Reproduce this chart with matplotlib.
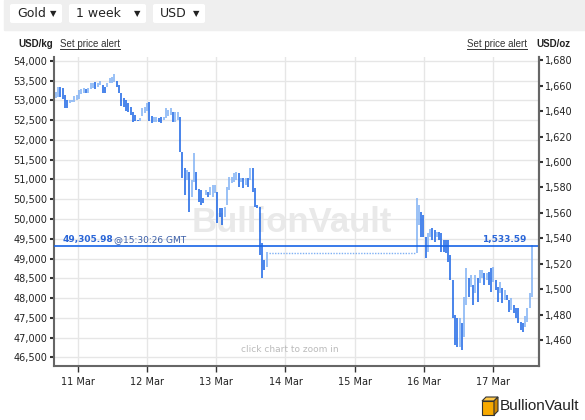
import numpy as np
import matplotlib.pyplot as plt
from matplotlib.patches import FancyBboxPatch, Rectangle, Polygon
from matplotlib.lines import Line2D
from matplotlib.ticker import FuncFormatter

plt.rcParams['font.family'] = ['DejaVu Sans']

OZ_PER_KG = 32.1507

# hours since 10 Mar 00:00 GMT
s1_start, s1_end = 16.4, 89.5
s1_high = [53220, 53350, 53340, 53320, 53140, 53010, 53010, 53000, 53120, 53140,
           53270, 53290, 53320, 53290, 53320, 53450, 53450, 53470, 53450, 53500,
           53390, 53340, 53450, 53570, 53600, 53670, 53500, 53390, 53190, 53060,
           53010, 52940, 52840, 52710, 52630, 52510, 52560, 52810, 52840, 52940,
           52960, 52610, 52580, 52580, 52560, 52580, 52580, 52810, 52760, 52810,
           52710, 52710, 52710,
           52580, 51700, 51290, 51240, 51190, 50990, 51670, 51190, 50760, 50730,
           50530, 50730, 50680, 50810, 50860, 50860, 50680, 50280, 50280, 50300,
           50810, 51060, 51060, 51160, 51190, 51160, 51040, 51040, 51040, 51040,
           51290, 51290, 50780, 50350, 50300, 49390, 48960, 49160]
s1_low = [53060, 53100, 53090, 53040, 52810, 52810, 52940, 52960, 52960, 53010,
          53040, 53170, 53190, 53190, 53190, 53290, 53320, 53290, 53340, 53390,
          53190, 53190, 53340, 53450, 53450, 53470, 53340, 53190, 52860, 52840,
          52740, 52710, 52630, 52460, 52480, 52480, 52480, 52610, 52680, 52740,
          52480, 52430, 52460, 52460, 52460, 52430, 52510, 52560, 52610, 52630,
          52460, 52460, 52510,
          51700, 51040, 50610, 50990, 50180, 50560, 50940, 50730, 50430, 50350,
          50400, 50610, 50560, 50610, 50560, 50660, 49900, 50050, 49850, 50050,
          50350, 50730, 50910, 50940, 50990, 50810, 50940, 50780, 50860, 50810,
          50990, 50680, 50300, 50280, 49090, 48500, 48710, 48780]

s2_start, s2_end = 141.4, 181.3
s2_high = [50530, 50350, 50180, 50100, 49540, 49640, 49750, 49770, 49720, 49670,
           49670, 49640, 49470, 49470, 49470, 49090, 48450, 47570, 47490, 47490,
           47360, 48020, 48760, 48500, 48580, 48330, 48580, 48500, 48710, 48710,
           48630, 48630, 48660, 48760, 48780, 48450, 48280, 48400, 48250, 48200,
           48070, 47950, 48000, 47820, 47740, 47740, 47390, 47360, 47540, 47740,
           48120, 49330]
s2_low = [49140, 49850, 49540, 49540, 49010, 49160, 49540, 49470, 49420, 49540,
          49470, 49160, 49160, 49140, 48910, 48450, 47490, 46810, 46760, 46760,
          46680, 47010, 47820, 48020, 48280, 47820, 48120, 47900, 48380, 48500,
          48330, 48450, 48330, 48150, 48400, 48200, 47900, 48120, 47870, 47950,
          47950, 47640, 47690, 47620, 47490, 47360, 47190, 47140, 47260, 47390,
          47740, 48020]

weekend_level = 49140
last_price = 49305.98
last_time = '@15:30:26 GMT'
day_labels = ['11 Mar', '12 Mar', '13 Mar', '14 Mar', '15 Mar', '16 Mar', '17 Mar']
kg_ticks = np.arange(46500, 54001, 500)
oz_ticks = np.arange(1460, 1681, 20)

DARK = '#1763e6'
LIGHT = '#7fb0f4'
W, H = 585, 420
UI_FONT = 'Liberation Sans'


def fx(x):
    return x / W


def fy(y):
    return 1 - y / H


fig = plt.figure(figsize=(W / 100, H / 100), dpi=100)
fig.patch.set_facecolor('white')

# top control bar
fig.patches.append(Rectangle((fx(4), fy(30)), 1, 30 / H, transform=fig.transFigure,
                             color='#efefef', zorder=0))
for x0, x1, label in [(10, 62, 'Gold'), (69, 146, '1 week'), (153, 205, 'USD')]:
    fig.patches.append(FancyBboxPatch((fx(x0), fy(23)), (x1 - x0) / W, 19 / H,
                                      boxstyle='round,pad=0,rounding_size=0.004',
                                      transform=fig.transFigure, fc='white', ec='none'))
    fig.text(fx(x0 + 7), fy(13.5), label, fontsize=9, color='#222222', va='center')
    fig.text(fx(x1 - 6), fy(13.5), '\u25BC', fontsize=6, color='#222222',
             va='center', ha='right')

fig.text(fx(18), fy(44), 'USD/kg', fontsize=7, family=UI_FONT, fontweight='bold',
         color='#222222', va='center')
sp_left = fig.text(fx(60), fy(44), 'Set price alert', fontsize=7, family=UI_FONT,
                   color='#333333', va='center')
sp_right = fig.text(fx(467), fy(44), 'Set price alert', fontsize=7, family=UI_FONT,
                    color='#333333', va='center')
fig.text(fx(536), fy(44), 'USD/oz', fontsize=7, family=UI_FONT, fontweight='bold',
         color='#222222', va='center')

ax = fig.add_axes([fx(53.6), 1 - 366 / H, (538.9 - 53.6) / W, (366 - 57) / H])
ax.set_xlim(15.7, 183.75)
ax.set_ylim(46280, 54100)

ax.set_axisbelow(True)
ax.grid(True, color='#e6e6e6', lw=1)
ax.set_yticks(kg_ticks)
ax.yaxis.set_major_formatter(FuncFormatter(lambda v, p: f'{v:,.0f}'))
ax.set_xticks([24 * (i + 1) for i in range(len(day_labels))])
ax.set_xticklabels(day_labels)

for s in ['left', 'right', 'bottom']:
    ax.spines[s].set_color('#666666')
    ax.spines[s].set_linewidth(1.5)
ax.spines['top'].set_visible(False)
ax.tick_params(axis='y', length=3, width=1.5, color='#333333', labelsize=7,
               labelcolor='#222222', pad=1.5)
ax.tick_params(axis='x', length=4, width=1, color='#333333', labelsize=7,
               labelcolor='#222222', pad=4)

# watermark and hint
ax.text(0.491, 0.466, 'BullionVault', transform=ax.transAxes, fontsize=25,
        family=UI_FONT, fontweight='bold', color='#e9e9e9',
        ha='center', va='center', zorder=0.8)
ax.text(0.486, 0.055, 'click chart to zoom in', transform=ax.transAxes, fontsize=6.5,
        color='#bbbbbb', ha='center', va='center', zorder=0.8)

# candles
for start, end, highs, lows in [(s1_start, s1_end, s1_high, s1_low),
                                (s2_start, s2_end, s2_high, s2_low)]:
    hi = np.array(highs)
    lo = np.array(lows)
    t = np.linspace(start, end, len(hi))
    mid = (hi + lo) / 2
    falling = np.r_[False, np.diff(mid) < 0]
    ax.vlines(t[~falling], lo[~falling], hi[~falling], color=LIGHT, lw=1.1, zorder=2)
    ax.vlines(t[falling], lo[falling], hi[falling], color=DARK, lw=1.1, zorder=2)

# weekend flat segment
ax.plot([s1_end + 0.8, s2_start - 0.5], [weekend_level, weekend_level], color=LIGHT,
        lw=1, ls=(0, (1, 1)), zorder=2)

# last price line and labels
ax.axhline(last_price, color=DARK, lw=1.2, zorder=3)
blend = ax.get_yaxis_transform()
ax.annotate(f'{last_price:,.2f}', xy=(0.018, last_price), xycoords=blend,
            xytext=(0, 1.5), textcoords='offset points', fontsize=6.5, fontweight='bold',
            color='#2a66d8', va='bottom', ha='left', zorder=4)
ax.annotate(last_time, xy=(0.125, last_price), xycoords=blend,
            xytext=(0, 1.5), textcoords='offset points', fontsize=6.5,
            color='#3a5ea8', va='bottom', ha='left', zorder=4)
ax.annotate(f'{last_price / OZ_PER_KG:,.2f}', xy=(0.975, last_price), xycoords=blend,
            xytext=(0, 1.5), textcoords='offset points', fontsize=6.5, fontweight='bold',
            color='#2a66d8', va='bottom', ha='right', zorder=4)

# right axis in USD/oz
ax2 = ax.twinx()
lo_lim, hi_lim = ax.get_ylim()
ax2.set_ylim(lo_lim / OZ_PER_KG, hi_lim / OZ_PER_KG)
ax2.set_yticks(oz_ticks)
ax2.yaxis.set_major_formatter(FuncFormatter(lambda v, p: f'{v:,.0f}'))
for s in ['left', 'top', 'bottom']:
    ax2.spines[s].set_visible(False)
ax2.spines['right'].set_color('#666666')
ax2.spines['right'].set_linewidth(1.5)
ax2.tick_params(axis='y', length=3, width=1.5, color='#333333', labelsize=7,
                labelcolor='#222222', pad=1.5)

# logo bottom right
cube = [
    ([(482, 401), (494, 401), (494, 415), (482, 415)], '#f7a900'),
    ([(482, 401), (486, 397), (498, 397), (494, 401)], '#ffc94a'),
    ([(494, 401), (498, 397), (498, 411), (494, 415)], '#d08800'),
]
for pts, col in cube:
    fig.patches.append(Polygon([(fx(x), fy(y)) for x, y in pts], closed=True,
                               transform=fig.transFigure, fc=col, ec='#333333', lw=0.8))
fig.text(fx(500), fy(406), 'BullionVault', fontsize=11, family=UI_FONT,
         color='#222222', va='center', ha='left')

# underline the alert links
fig.canvas.draw()
inv = fig.transFigure.inverted()
for txt in [sp_left, sp_right]:
    bb = txt.get_window_extent().transformed(inv)
    fig.add_artist(Line2D([bb.x0, bb.x1], [bb.y0 + 0.001, bb.y0 + 0.001],
                          transform=fig.transFigure, color='#333333', lw=0.7))

fig.savefig('out.png', dpi=100)
